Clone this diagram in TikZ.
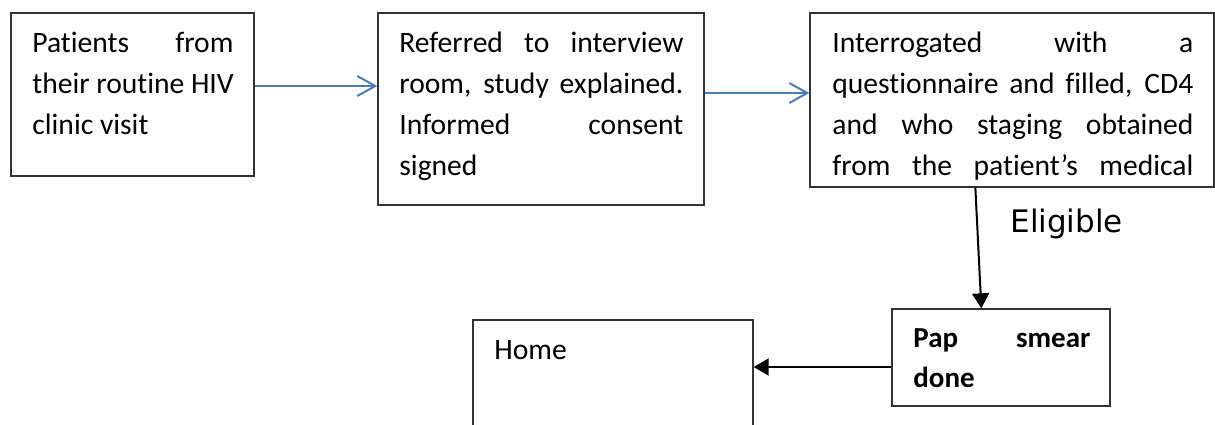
\documentclass[tikz,border=0pt]{standalone}
\usepackage{fontspec}
\setmainfont{Carlito}[Ligatures=NoCommon]
\newfontfamily\dejavu{DejaVu Sans}
\usetikzlibrary{arrows.meta,fit,calc}
\definecolor{flowblue}{HTML}{4A7EBB}
\definecolor{boxline}{HTML}{333333}
\newcommand\jline[2]{\strut\makebox[#1][s]{#2}}
\begin{document}
\begin{tikzpicture}[x=0.5pt,y=-0.5pt,
  box/.style={draw=boxline,line width=0.65pt,inner sep=0pt,fill=none},
  txt/.style={inner sep=0pt,anchor=north west,align=left,
    font=\fontsize{14.8}{20.5}\selectfont},
  barb/.style={draw=flowblue,line width=1pt,-{Straight Barb[length=9pt,width=10pt,line width=1pt]}},
  blackarrow/.style={draw=black,line width=1pt,-{Triangle[length=7.5pt,width=8.5pt]}}]
\useasboundingbox (0,0) rectangle (1215,424);
\clip (0,0) rectangle (1215,424);
\fill[white] (0,0) rectangle (1215,424);
% boxes
\node[box,fit={(11,13) (254,176)}] (b1) {};
\node[box,fit={(378,13) (704,205)}] (b2) {};
\node[box,fit={(810,13) (1214,187)}] (b3) {};
\node[box,fit={(892,309) (1110,406)}] (b4) {};
\node[box,fit={(473,320) (753,440)}] (b5) {};
% texts
\node[txt] (t1) at (32,23.3) {\jline{100.5pt}{Patients from}\\\strut their routine HIV\\\strut clinic visit};
\node[txt] (t2) at (399,23.3) {\jline{142pt}{Referred to interview}\\\jline{142pt}{room, study explained.}\\\jline{142pt}{Informed consent}\\\strut signed};
\node[txt] (t3) at (832,23.3) {\jline{180.5pt}{Interrogated with a}\\\jline{180.5pt}{questionnaire and filled, CD4}\\\jline{180.5pt}{and who staging obtained}\\\jline{180.5pt}{from the patient’s medical}};
\node[txt,font=\fontsize{14.5}{20}\selectfont\bfseries] (t4) at (913,319.5) {\jline{88.5pt}{Pap smear}\\\strut done};
\node[txt] (t5) at (494,330.3) {\strut Home};
\node[inner sep=0pt,anchor=base west,font=\dejavu\fontsize{15.5}{18}\selectfont] (elig) at (1010,232) {Eligible};
% connectors
\coordinate (a1) at ($(b1.east)+(0,-8.5)$);
\draw[barb] (a1) -- (a1 -| b2.west);
\coordinate (a2) at ($(b2.east)+(0,-16)$);
\draw[barb] (a2) -- (a2 -| b3.west);
\draw[blackarrow] ($(b3.south west)+(166,0)$) -- ($(b4.north west)+(90,0)$);
\coordinate (a4) at ($(b4.west)+(0,9.5)$);
\draw[blackarrow] (a4) -- (a4 -| b5.east);
\end{tikzpicture}
\end{document}
